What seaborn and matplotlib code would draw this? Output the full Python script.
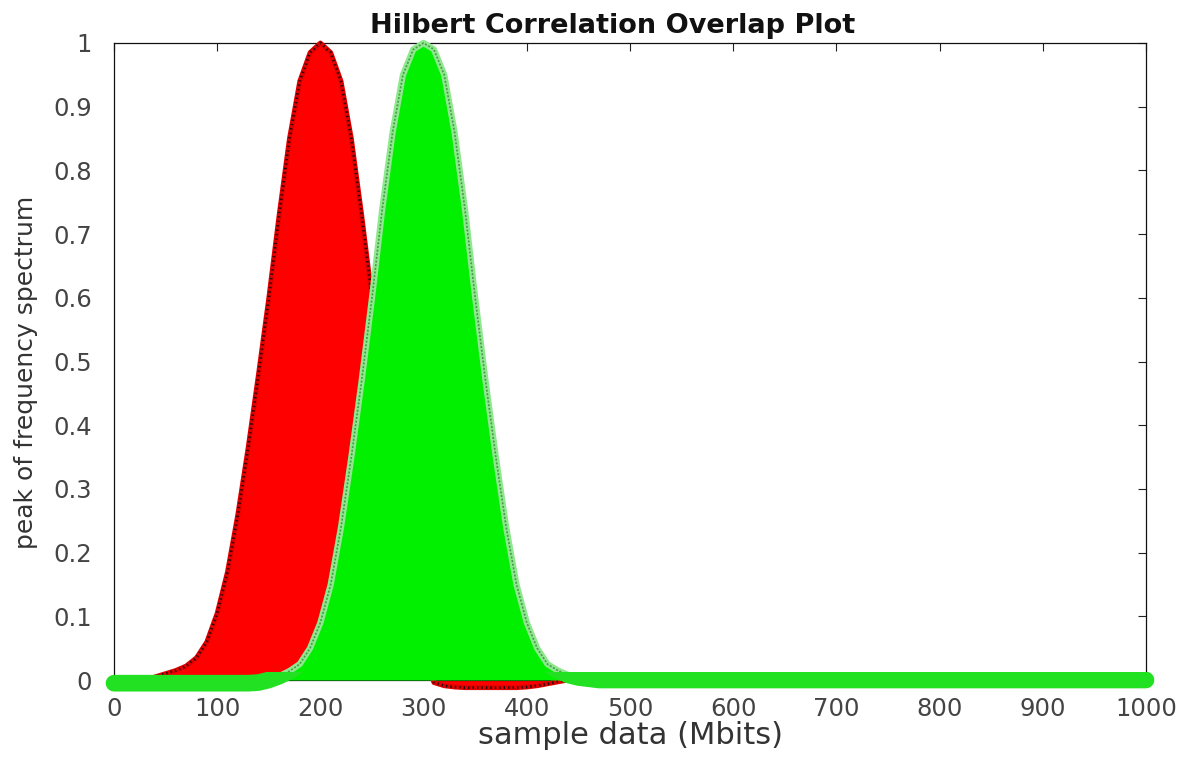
import matplotlib
matplotlib.use("Agg")
import matplotlib.pyplot as plt
from matplotlib.patches import Rectangle
import seaborn as sns

# sample positions (Mbits) and the two normalised correlation peaks
sample_mbits = [
    0, 10, 20, 30, 40, 50, 60, 70, 80, 90,
    100, 110, 120, 130, 140, 150, 160, 170, 180, 190,
    200, 210, 220, 230, 240, 250, 260, 270, 280, 290,
    300, 310, 320, 330, 340, 350, 360, 370, 380, 390,
    400, 410, 420, 430, 440, 450, 460, 470, 480, 490,
    500, 510, 520, 530, 540, 550, 560, 570, 580, 590,
    600, 610, 620, 630, 640, 650, 660, 670, 680, 690,
    700, 710, 720, 730, 740, 750, 760, 770, 780, 790,
    800, 810, 820, 830, 840, 850, 860, 870, 880, 890,
    900, 910, 920, 930, 940, 950, 960, 970, 980, 990,
    1000,
]

red_peak = [
    0, 0, 0, 0, 0.005, 0.01, 0.015, 0.022, 0.035, 0.06,
    0.105, 0.17, 0.26, 0.365, 0.48, 0.6, 0.73, 0.85, 0.94, 0.985,
    1.0, 0.985, 0.94, 0.85, 0.73, 0.6, 0.48, 0.365, 0.25, 0.12,
    0.04, -0.004, -0.009, -0.011, -0.012, -0.012, -0.012, -0.012, -0.012, -0.012,
    -0.011, -0.009, -0.006, -0.003, 0, 0, 0, 0, 0, 0,
    0, 0, 0, 0, 0, 0, 0, 0, 0, 0,
    0, 0, 0, 0, 0, 0, 0, 0, 0, 0,
    0, 0, 0, 0, 0, 0, 0, 0, 0, 0,
    0, 0, 0, 0, 0, 0, 0, 0, 0, 0,
    0, 0, 0, 0, 0, 0, 0, 0, 0, 0,
    0,
]

green_peak = [
    -0.005, -0.005, -0.005, -0.005, -0.005, -0.005, -0.005, -0.005, -0.005, -0.005,
    -0.005, -0.005, -0.005, -0.005, -0.004, 0.0, 0.006, 0.014, 0.025, 0.05,
    0.09, 0.15, 0.24, 0.35, 0.47, 0.6, 0.74, 0.86, 0.95, 0.99,
    1.0, 0.99, 0.95, 0.86, 0.74, 0.6, 0.47, 0.35, 0.24, 0.15,
    0.09, 0.05, 0.025, 0.015, 0.008, 0.004, 0.002, 0, 0, 0,
    0, 0, 0, 0, 0, 0, 0, 0, 0, 0,
    0, 0, 0, 0, 0, 0, 0, 0, 0, 0,
    0, 0, 0, 0, 0, 0, 0, 0, 0, 0,
    0, 0, 0, 0, 0, 0, 0, 0, 0, 0,
    0, 0, 0, 0, 0, 0, 0, 0, 0, 0,
    0,
]

x_ticks = [0, 100, 200, 300, 400, 500, 600, 700, 800, 900, 1000]
y_ticks = [0, 0.1, 0.2, 0.3, 0.4, 0.5, 0.6, 0.7, 0.8, 0.9, 1.0]
y_tick_labels = ["0", "0.1", "0.2", "0.3", "0.4", "0.5", "0.6", "0.7", "0.8", "0.9", "1"]

sns.set_style("white")
plt.rcParams["font.family"] = ["DejaVu Sans"]

fig = plt.figure(figsize=(11.87, 7.65), dpi=100)
ax = fig.add_axes([114 / 1187, 85 / 765, 1032 / 1187, 637 / 765])

# red peak: filled body with a ragged dark edge
ax.fill_between(sample_mbits, red_peak, 0, color="#ff0000", lw=0, zorder=2, clip_on=False)
sns.lineplot(x=sample_mbits, y=red_peak, ax=ax, color="#e00000", lw=3.5, zorder=3, clip_on=False)
sns.lineplot(x=sample_mbits, y=red_peak, ax=ax, color="#2a0000", lw=2.0, zorder=3, clip_on=False)
ax.lines[-1].set_dashes([0.5, 1.1])

# green peak on top
ax.fill_between(sample_mbits, green_peak, 0, color="#00f000", lw=0, zorder=4, clip_on=False)
sns.lineplot(x=sample_mbits, y=green_peak, ax=ax, color="#8ee88e", lw=4.5, zorder=5, clip_on=False)
sns.lineplot(x=sample_mbits, y=green_peak, ax=ax, color="#4a9a4a", lw=1.2, zorder=5, clip_on=False)
ax.lines[-1].set_dashes([1.2, 1.0])

# thick green trace where the green signal sits on the baseline
sns.lineplot(x=sample_mbits, y=green_peak, ax=ax, color="#22e022", lw=12,
             solid_capstyle="round", zorder=6)
band = ax.lines[-1]
band.set_clip_on(True)
band.set_clip_path(Rectangle((-30, -0.05), 1060, 0.063, transform=ax.transData))

ax.set_xlim(0, 1000)
ax.set_ylim(0, 1)
ax.set_xticks(x_ticks)
ax.set_yticks(y_ticks)
ax.set_yticklabels(y_tick_labels)
ax.tick_params(axis="both", direction="in", top=True, right=True, length=6, width=0.8,
               labelsize=17.5, labelcolor="#444444", color="#222222")
ax.tick_params(axis="x", pad=12)
ax.tick_params(axis="y", pad=16)
for spine in ax.spines.values():
    spine.set_color("#111111")
    spine.set_linewidth(0.9)

ax.set_xlabel("sample data (Mbits)", fontsize=22, color="#333333", labelpad=0)
ax.set_ylabel("peak of frequency spectrum", fontsize=18, color="#333333")
ax.yaxis.set_label_coords(-0.0736, 0.4835)
ax.set_title("Hilbert Correlation Overlap Plot", fontsize=19.5, fontweight="bold",
             color="#111111", x=(613 - 114) / 1032, pad=7)

fig.savefig("out.png", dpi=100)
